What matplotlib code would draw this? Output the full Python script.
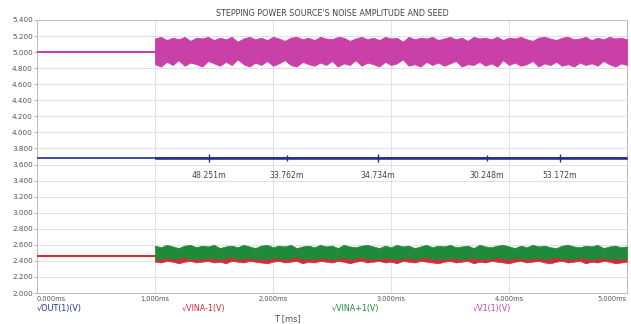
import numpy as np
import matplotlib
matplotlib.use("Agg")
import matplotlib.pyplot as plt

# =============================================================================
# DATA
# =============================================================================
Y_TICKS = [5.4, 5.2, 5.0, 4.8, 4.6, 4.4, 4.2, 4.0, 3.8, 3.6, 3.4, 3.2,
           3.0, 2.8, 2.6, 2.4, 2.2, 2.0]
X_TICKS = [0, 1, 2, 3, 4, 5]
X_TICK_LABELS = ["0.000ms", "1.000ms", "2.000ms", "3.000ms", "4.000ms", "5.000ms"]

STEP_T = 1.0            # source starts stepping at 1 ms
T_END = 5.0

# flat levels before the step
PINK_FLAT = 5.00
BLUE_FLAT = 3.68
RED_FLAT = 2.46

# envelope of the noise after the step, one value every 0.05 ms
PINK_HI = [5.17, 5.19, 5.15, 5.18, 5.16, 5.19, 5.14, 5.18, 5.17, 5.19,
           5.15, 5.18, 5.16, 5.19, 5.13, 5.17, 5.19, 5.16, 5.18, 5.15,
           5.19, 5.17, 5.14, 5.18, 5.19, 5.16, 5.18, 5.15, 5.19, 5.17,
           5.16, 5.19, 5.18, 5.14, 5.17, 5.19, 5.16, 5.18, 5.15, 5.19,
           5.17, 5.18, 5.13, 5.19, 5.16, 5.18, 5.17, 5.19, 5.15, 5.17,
           5.19, 5.16, 5.18, 5.14, 5.19, 5.17, 5.18, 5.16, 5.19, 5.15,
           5.18, 5.17, 5.19, 5.16, 5.14, 5.18, 5.19, 5.17, 5.15, 5.18,
           5.19, 5.16, 5.17, 5.19, 5.15, 5.18, 5.16, 5.19, 5.17, 5.18,
           5.16]
PINK_LO = [4.85, 4.82, 4.88, 4.84, 4.90, 4.83, 4.87, 4.85, 4.82, 4.89,
           4.86, 4.83, 4.88, 4.84, 4.91, 4.85, 4.82, 4.87, 4.84, 4.89,
           4.83, 4.86, 4.90, 4.84, 4.82, 4.88, 4.85, 4.83, 4.87, 4.84,
           4.89, 4.82, 4.86, 4.84, 4.90, 4.83, 4.87, 4.85, 4.82, 4.88,
           4.84, 4.86, 4.91, 4.83, 4.85, 4.82, 4.88, 4.84, 4.87, 4.83,
           4.86, 4.89, 4.82, 4.85, 4.84, 4.88, 4.83, 4.86, 4.82, 4.90,
           4.84, 4.87, 4.83, 4.85, 4.89, 4.82, 4.86, 4.84, 4.88, 4.83,
           4.85, 4.82, 4.87, 4.84, 4.86, 4.83, 4.89, 4.85, 4.82, 4.86,
           4.84]
GREEN_HI = [2.59, 2.57, 2.60, 2.58, 2.56, 2.59, 2.60, 2.57, 2.59, 2.58,
            2.60, 2.56, 2.58, 2.59, 2.57, 2.60, 2.58, 2.56, 2.59, 2.60,
            2.57, 2.59, 2.58, 2.60, 2.56, 2.58, 2.59, 2.57, 2.60, 2.58,
            2.59, 2.56, 2.60, 2.58, 2.57, 2.59, 2.60, 2.58, 2.56, 2.59,
            2.57, 2.60, 2.58, 2.59, 2.56, 2.58, 2.60, 2.57, 2.59, 2.58,
            2.60, 2.57, 2.58, 2.59, 2.56, 2.60, 2.58, 2.57, 2.59, 2.60,
            2.58, 2.56, 2.59, 2.57, 2.60, 2.58, 2.59, 2.57, 2.56, 2.59,
            2.60, 2.58, 2.57, 2.59, 2.58, 2.60, 2.56, 2.58, 2.59, 2.57,
            2.58]
GREEN_LO = [2.43, 2.42, 2.44, 2.42, 2.43, 2.45, 2.42, 2.43, 2.42, 2.44,
            2.43, 2.42, 2.43, 2.45, 2.42, 2.43, 2.44, 2.42, 2.43, 2.42,
            2.44, 2.43, 2.42, 2.43, 2.45, 2.42, 2.43, 2.42, 2.44, 2.43,
            2.42, 2.43, 2.44, 2.42, 2.43, 2.45, 2.42, 2.43, 2.42, 2.44,
            2.43, 2.42, 2.43, 2.44, 2.42, 2.43, 2.45, 2.42, 2.43, 2.42,
            2.44, 2.43, 2.42, 2.43, 2.44, 2.42, 2.43, 2.42, 2.45, 2.43,
            2.42, 2.44, 2.43, 2.42, 2.43, 2.44, 2.42, 2.43, 2.45, 2.42,
            2.43, 2.42, 2.44, 2.43, 2.42, 2.43, 2.44, 2.42, 2.43, 2.42,
            2.43]
RED_LO = [2.39, 2.38, 2.40, 2.39, 2.37, 2.39, 2.40, 2.38, 2.39, 2.40,
          2.38, 2.39, 2.37, 2.40, 2.39, 2.38, 2.40, 2.39, 2.38, 2.37,
          2.39, 2.40, 2.38, 2.39, 2.40, 2.37, 2.39, 2.38, 2.40, 2.39,
          2.38, 2.40, 2.39, 2.37, 2.39, 2.40, 2.38, 2.39, 2.40, 2.38,
          2.39, 2.37, 2.40, 2.39, 2.38, 2.40, 2.39, 2.38, 2.37, 2.39,
          2.40, 2.38, 2.39, 2.40, 2.37, 2.39, 2.38, 2.40, 2.39, 2.38,
          2.37, 2.39, 2.40, 2.38, 2.39, 2.40, 2.38, 2.37, 2.39, 2.40,
          2.38, 2.39, 2.40, 2.37, 2.39, 2.38, 2.40, 2.39, 2.37, 2.38,
          2.39]
BLUE_RIPPLE = 0.008

# blue spikes + peak-to-peak readouts
SPIKE_T = [1.46, 2.12, 2.89, 3.81, 4.43]
SPIKE_HI = [3.73, 3.72, 3.73, 3.72, 3.73]
SPIKE_LO = [3.63, 3.64, 3.63, 3.64, 3.63]
SPIKE_LABELS = ["48.251m", "33.762m", "34.734m", "30.248m", "53.172m"]
SPIKE_LABEL_Y = 3.46

LEGEND_LABELS = ["\u221aOUT(1)(V)", "\u221aVINA-1(V)", "\u221aVINA+1(V)", "\u221aV1(1)(V)"]

# =============================================================================
# STYLE
# =============================================================================
PINK  = "#c940a8"
BLUE  = "#22308c"
GREEN = "#1f8a3c"
RED   = "#d52a3a"
GRID  = "#dcdcdc"
TEXT  = "#555555"

W, H = 631, 324
fig = plt.figure(figsize=(W / 100, H / 100), dpi=100, facecolor="white")
ax = fig.add_axes([37 / W, 1 - 293 / H, (627 - 37) / W, (293 - 20) / H])

t_noise = np.linspace(STEP_T, T_END, len(PINK_HI))

# --- flat parts before the step ---
ax.plot([0, STEP_T], [PINK_FLAT, PINK_FLAT], color=PINK, lw=1.5, zorder=3)
ax.plot([0, T_END], [BLUE_FLAT, BLUE_FLAT], color=BLUE, lw=1.2, zorder=3)
ax.plot([0, STEP_T], [RED_FLAT, RED_FLAT], color=RED, lw=1.5, zorder=3)

# --- noise bands after the step ---
ax.fill_between(t_noise, PINK_LO, PINK_HI, color=PINK, lw=0.6, edgecolor=PINK, zorder=3)
ax.fill_between(t_noise, RED_LO, np.array(GREEN_LO) + 0.02, color=RED, lw=0.5,
                edgecolor=RED, zorder=3)
ax.fill_between(t_noise, GREEN_LO, GREEN_HI, color=GREEN, lw=0.5, edgecolor=GREEN, zorder=4)
ax.fill_between(t_noise, BLUE_FLAT - BLUE_RIPPLE, BLUE_FLAT + BLUE_RIPPLE,
                color=BLUE, lw=0.4, edgecolor=BLUE, zorder=3)
ax.vlines(SPIKE_T, SPIKE_LO, SPIKE_HI, color=BLUE, lw=1.0, zorder=4)

for t, lab in zip(SPIKE_T, SPIKE_LABELS):
    ax.text(t, SPIKE_LABEL_Y, lab, ha="center", va="center", fontsize=5.6,
            color="#444444", zorder=5)

# --- axes & grid ---
ax.set_xlim(0, T_END)
ax.set_ylim(min(Y_TICKS), max(Y_TICKS))
ax.set_yticks(Y_TICKS)
ax.set_yticklabels([f"{v:.3f}" for v in Y_TICKS], fontsize=5.2, color=TEXT)
ax.set_xticks(X_TICKS)
ax.set_xticklabels(X_TICK_LABELS, fontsize=4.8, color=TEXT)
xlabels = ax.get_xticklabels()
xlabels[0].set_ha("left")
xlabels[-1].set_ha("right")
ax.tick_params(axis="y", length=2, width=0.5, pad=1, color="#999999")
ax.tick_params(axis="x", length=0, pad=2)
ax.grid(True, color=GRID, lw=0.6, zorder=0)
for s in ax.spines.values():
    s.set_color("#bbbbbb")
    s.set_linewidth(0.7)

# --- title, legend labels, x label ---
fig.text((37 + 627) / 2 / W, 1 - 13 / H,
         "STEPPING POWER SOURCE'S NOISE AMPLITUDE AND SEED",
         ha="center", va="center", fontsize=5.8, color="#444444")

legend_x = [37, 182, 332, 473]
legend_c = [BLUE, RED, GREEN, PINK]
for x, lab, c in zip(legend_x, LEGEND_LABELS, legend_c):
    fig.text(x / W, 1 - 308 / H, lab, ha="left", va="center", fontsize=5.8, color=c)

fig.text(287 / W, 1 - 323 / H, "T [ms]", ha="center", va="bottom", fontsize=6, color=TEXT)

fig.savefig("out.png", dpi=100, facecolor="white")
